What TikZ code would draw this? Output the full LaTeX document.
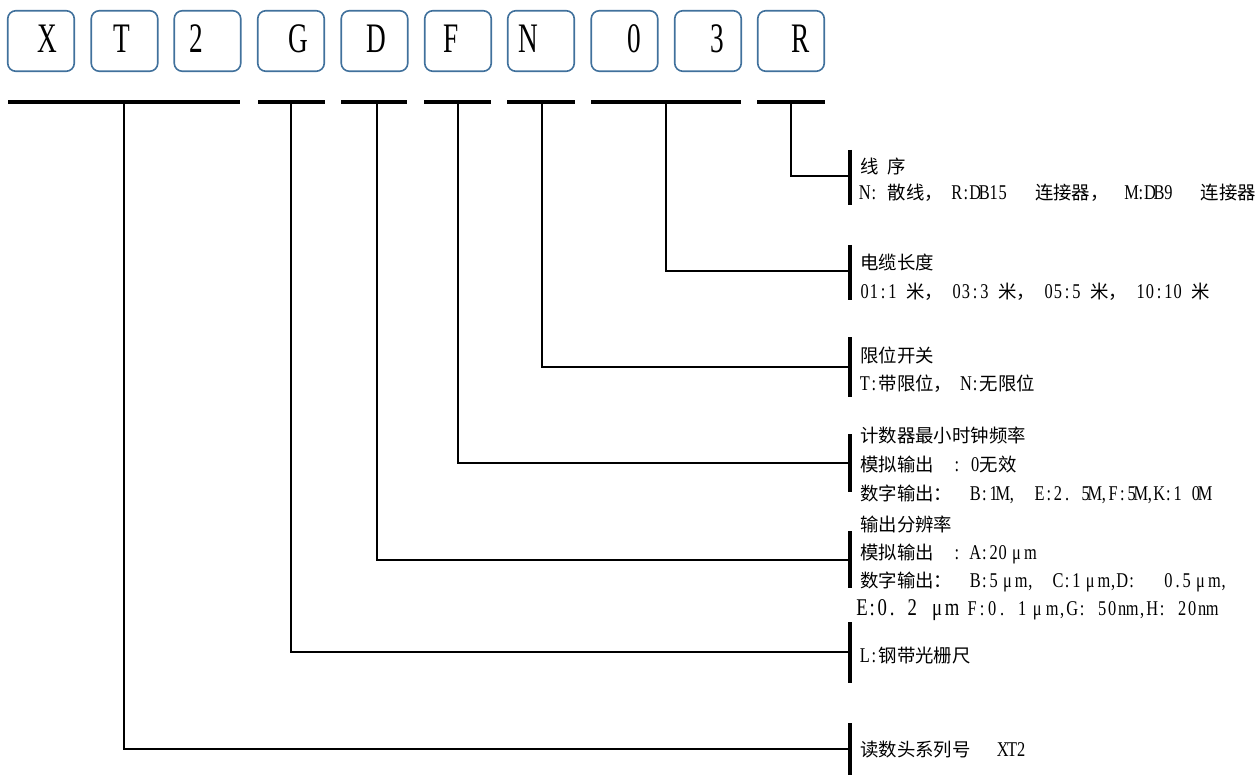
\documentclass[tikz,border=0pt]{standalone}
\usepackage{fontspec}
\usepackage{graphicx}
\setmainfont{Noto Sans CJK SC}
\newfontfamily\latf{Liberation Serif}[FakeStretch=0.78]
\newfontfamily\codef{Liberation Serif}[FakeStretch=0.65]
\definecolor{boxblue}{HTML}{41719C}
\newlength\hw \setlength\hw{9.2pt}
\newcommand\h{\hspace*{\hw}}
\newcommand\mmu{\makebox[2\hw]{\latf\fontsize{21}{21}\selectfont μ}}
\ExplSyntaxOn
\NewDocumentCommand\monox{mmm}{\tl_map_inline:nn{#3}{\makebox[#1]{\latf\fontsize{#2}{#2}\selectfont ##1}}}
\ExplSyntaxOff
\newcommand\mono[1]{\monox{\hw}{21}{#1}}
\begin{document}
\begin{tikzpicture}[x=1pt,y=-1pt,
  codebox/.style={draw=boxblue,line width=1.6pt,rounded corners=8pt,minimum width=66.5pt,minimum height=60.5pt,inner sep=0pt},
  codeletter/.style={anchor=base,inner sep=0pt,font=\codef\fontsize{42}{42}\selectfont},
  grpline/.style={line width=3.2pt},
  conn/.style={line width=2.5pt},
  barline/.style={line width=3.2pt},
  txt/.style={anchor=base west,inner sep=0pt,font=\fontsize{18.4}{20}\selectfont}]
\useasboundingbox (0,0) rectangle (1260,775);
% code boxes
\node[codebox] (bX) at (41,41) {};
\node[codebox] (bT) at (124.5,41) {};
\node[codebox] (b2) at (207.5,41) {};
\node[codebox] (bG) at (291,41) {};
\node[codebox] (bD) at (374.5,41) {};
\node[codebox] (bF) at (458,41) {};
\node[codebox] (bN) at (541,41) {};
\node[codebox] (b0) at (624.5,41) {};
\node[codebox] (b3) at (708,41) {};
\node[codebox] (bR) at (791,41) {};
\node[codeletter] (lX) at (47,53) {X};
\node[codeletter] (lT) at (121.5,53) {T};
\node[codeletter] (l2) at (196,53) {2};
\node[codeletter] (lG) at (298.5,53) {G};
\node[codeletter] (lD) at (376,53) {D};
\node[codeletter] (lF) at (451.5,53) {F};
\node[codeletter] (lN) at (528,53) {N};
\node[codeletter] (l0) at (634,53) {0};
\node[codeletter] (l3) at (717.5,53) {3};
\node[codeletter] (lR) at (801,53) {R};
% group underlines
\coordinate (gXa) at (8,102);   \coordinate (gXb) at (240,102);
\coordinate (gGa) at (258,102); \coordinate (gGb) at (325,102);
\coordinate (gDa) at (341,102); \coordinate (gDb) at (407,102);
\coordinate (gFa) at (424,102); \coordinate (gFb) at (491,102);
\coordinate (gNa) at (507,102); \coordinate (gNb) at (575,102);
\coordinate (gOa) at (591,102); \coordinate (gOb) at (741,102);
\coordinate (gRa) at (757,102); \coordinate (gRb) at (825,102);
\foreach \g in {X,G,D,F,N,O,R} {\draw[grpline] (g\g a) -- (g\g b);}
% drop points
\coordinate (dX) at (124,102);
\coordinate (dG) at (291,102);
\coordinate (dD) at (377,102);
\coordinate (dF) at (458,102);
\coordinate (dN) at (542,102);
\coordinate (dO) at (666,102);
\coordinate (dR) at (791,102);
% junctions on the bars
\coordinate (jR) at (850,176);
\coordinate (jO) at (850,271);
\coordinate (jN) at (850,367);
\coordinate (jF) at (850,463);
\coordinate (jD) at (850,560);
\coordinate (jG) at (850,652);
\coordinate (jX) at (850,749);
\foreach \g in {X,G,D,F,N,O,R} {\draw[conn] (d\g) |- (j\g);}
% bars
\coordinate (tR) at (850,150); \coordinate (eR) at (850,205);
\coordinate (tO) at (850,245); \coordinate (eO) at (850,300);
\coordinate (tN) at (850,337); \coordinate (eN) at (850,397);
\coordinate (tF) at (850,434); \coordinate (eF) at (850,492);
\coordinate (tD) at (850,531); \coordinate (eD) at (850,588);
\coordinate (tG) at (850,622); \coordinate (eG) at (850,683);
\coordinate (tX) at (850,723); \coordinate (eX) at (850,775);
\foreach \g in {X,G,D,F,N,O,R} {\draw[barline] (t\g) -- (e\g);}
% texts
\node[txt] (r1) at (860,174) {线\h 序};
\node[txt] (r2) at (860,200) {\mono{N:}\h 散线，\h\mono{R:DB15}\h\h\h 连接器，\h\h\mono{M:DB9}\h\h\h 连接器};
\node[txt] (c1) at (860,270) {电缆长度};
\node[txt] (c2) at (860,299) {\mono{01:1}\h 米，\h\mono{03:3}\h 米，\h\mono{05:5}\h 米，\h\mono{10:10}\h 米};
\node[txt] (n1) at (860,362) {限位开关};
\node[txt] (n2) at (860,390) {\mono{T:}带限位，\h\mono{N:}无限位};
\node[txt] (f1) at (860,442) {计数器最小时钟频率};
\node[txt] (f2) at (860,471) {模拟输出\h\h\mono{:}\h\mono{0}无效};
\node[txt] (f3) at (860,500) {数字输出：\h\h\mono{B:1M,}\h\h\mono{E:2.}\h\mono{5M,F:5M,K:1}\h\mono{0M}};
\node[txt] (e1) at (860,531) {输出分辨率};
\node[txt] (e2) at (860,559) {模拟输出\h\h\mono{:}\h\mono{A:20}\mmu\mono{m}};
\node[txt] (e3) at (860,587) {数字输出：\h\h\mono{B:5}\mmu\mono{m,}\h\h\mono{C:1}\mmu\mono{m,D:}\h\h\h\mono{0.5}\mmu\mono{m,}};
\node[txt] (e4) at (857,615) {\monox{10pt}{24}{E:0.}\hspace*{10pt}\monox{10pt}{24}{2}\hspace*{10pt}\makebox[20pt]{\latf\fontsize{24}{24}\selectfont μ}\monox{10pt}{24}{m}\hspace*{10pt}\monox{10pt}{21}{F:0.}\hspace*{10pt}\monox{10pt}{21}{1}\makebox[20pt]{\latf\fontsize{21}{21}\selectfont μ}\monox{10pt}{21}{m,G:}\hspace*{10pt}\monox{10pt}{21}{50nm,H:}\hspace*{10pt}\monox{10pt}{21}{20nm}};
\node[txt] (g1) at (860,662) {\mono{L:}钢带光栅尺};
\node[txt] (x1) at (860,756) {读数头系列号\h\h\h\mono{XT2}};
\end{tikzpicture}
\end{document}
